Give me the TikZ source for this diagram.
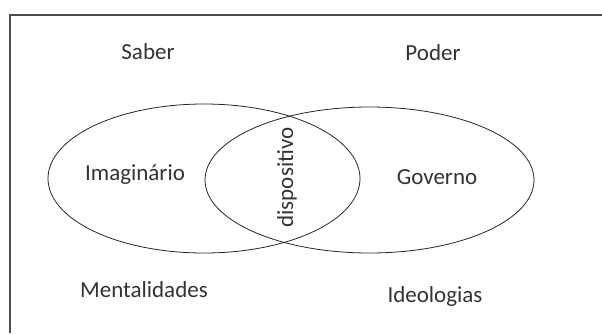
\documentclass[tikz,border=0pt]{standalone}
\usepackage{fontspec}
\setmainfont{Carlito}
\usetikzlibrary{shapes.geometric}

\begin{document}
\begin{tikzpicture}[x=0.75pt,y=-0.75pt,
                word/.style = {font=\fontsize{17.25}{20}\selectfont, text=black!80, inner sep=0pt},
                set/.style = {draw, ellipse, inner sep=0pt, line width=0.6pt, color=black!85}]
                \useasboundingbox (0,0) rectangle (602,333);
                \draw[line width=0.8pt, color=black!70] (10,333) |- (602,15);
                \node[set, minimum width=234pt, minimum height=111.75pt] (left) at (204,178.5) {};
                \node[set, minimum width=246.75pt, minimum height=109.5pt] (right) at (369.5,180) {};
                \node[word] (saber) at (148,52) {Saber};
                \node[word] (poder) at (433,53) {Poder};
                \node[word] (imag) at (135,175) {Imaginário};
                \node[word] (gov) at (437,177) {Governo};
                \node[word] (ment) at (144,290) {Mentalidades};
                \node[word] (ideo) at (435,296) {Ideologias};
                \node[word, rotate=90] (disp) at (287,177.5) {dispositivo};
            \end{tikzpicture}
\end{document}
